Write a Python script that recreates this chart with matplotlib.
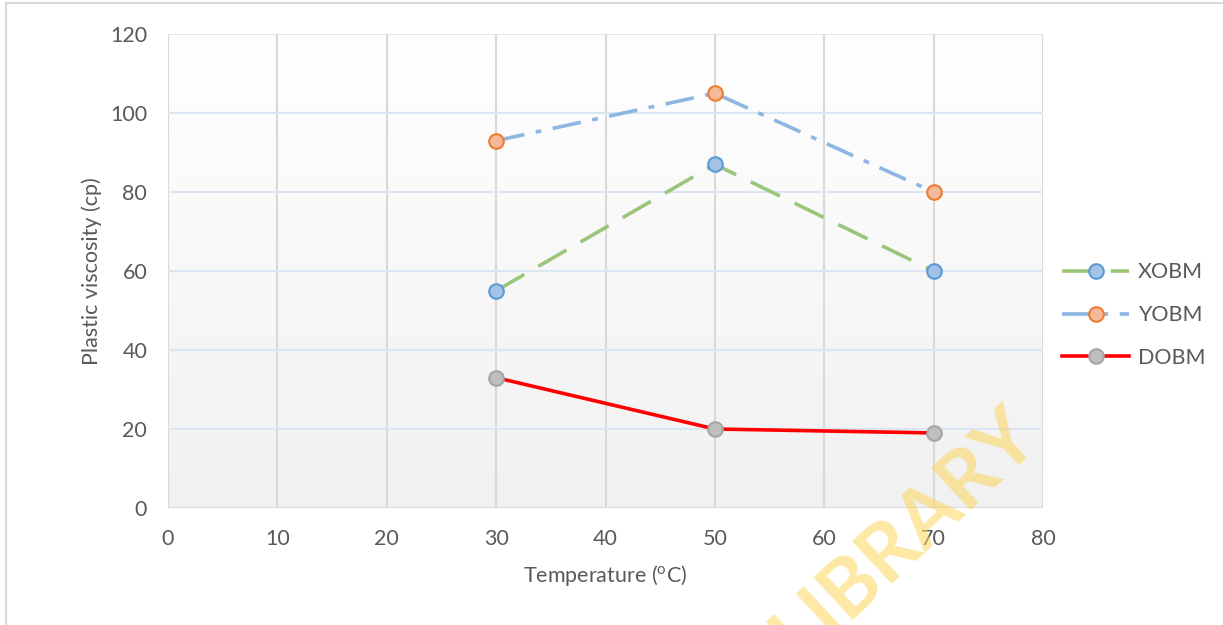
import numpy as np
import matplotlib
matplotlib.use("Agg")
import matplotlib.pyplot as plt
from matplotlib.lines import Line2D

plt.rcParams['font.family'] = ['Lato', 'DejaVu Sans']
plt.rcParams['mathtext.fontset'] = 'custom'
plt.rcParams['mathtext.rm'] = 'Lato'
plt.rcParams['mathtext.it'] = 'Lato'

# data
temperature = [30, 50, 70]
xobm = [55, 87, 60]
yobm = [93, 105, 80]
dobm = [33, 20, 19]

x_ticks = [0, 10, 20, 30, 40, 50, 60, 70, 80]
y_ticks = [0, 20, 40, 60, 80, 100, 120]

text_col = '#595959'
fs = 15.5

fig = plt.figure(figsize=(12.23, 6.25), dpi=100)
ax = fig.add_axes([168 / 1223, 1 - 508 / 625, (1043 - 168) / 1223, (508 - 34) / 625])

# gradient background (white at top, light grey at bottom)
grad = np.linspace(1.0, 0.945, 256).reshape(-1, 1)
ax.imshow(np.dstack([grad, grad, grad]), extent=[0, 1, 0, 1], transform=ax.transAxes,
          aspect='auto', zorder=0)

ax.set_xlim(0, 80)
ax.set_ylim(0, 120)
ax.set_xticks(x_ticks)
ax.set_yticks(y_ticks)
for t in x_ticks:
    ax.axvline(t, color='#D9D9D9', lw=1.5, zorder=1)
for t in y_ticks[1:]:
    ax.axhline(t, color='#DAE6F2', lw=1.5, zorder=1)
ax.axhline(0, color='#D9D9D9', lw=1.5, zorder=1)
for s in ax.spines.values():
    s.set_visible(False)
ax.tick_params(length=0, labelsize=fs, colors=text_col)
ax.tick_params(axis='x', pad=15)
ax.tick_params(axis='y', pad=15)

lw = 2.6
ms = 10.5
ax.plot(temperature, xobm, color='#9BC57A', lw=lw, dashes=(9, 4.5), marker='o', ms=ms,
        mfc='#A4C2E6', mec='#5B9BD5', mew=1.5, zorder=3, label='XOBM')
ax.plot(temperature, yobm, color='#8DB6E2', lw=lw, dashes=(8, 3.2, 1.6, 3.2), marker='o', ms=ms,
        mfc='#F4B89A', mec='#ED7D31', mew=1.5, zorder=3, label='YOBM')
ax.plot(temperature, dobm, color='#FF0000', lw=lw, marker='o', ms=ms,
        mfc='#BFBFBF', mec='#A5A5A5', mew=1.5, zorder=3, label='DOBM')

ax.set_xlabel('Temperature ($^{\\mathrm{o}}$C)', fontsize=fs, color=text_col, labelpad=10)
ax.set_ylabel('Plastic viscosity (cp)', fontsize=fs, color=text_col, labelpad=6)

leg = ax.legend(loc='center left', bbox_to_anchor=(1.0, 0.407), frameon=False, fontsize=fs,
                handlelength=3.1, labelspacing=1.05, handletextpad=0.4)
for txt in leg.get_texts():
    txt.set_color(text_col)

# watermark
fig.text(0.74, 0.145, 'LIBRARY', fontsize=58, fontweight='bold', color='#FCD55A', alpha=0.55,
         rotation=43, ha='center', va='center', zorder=10)

# outer frame lines
fig.add_artist(Line2D([6 / 1223, 6 / 1223], [0, 1 - 3 / 625], color='#D9D9D9', lw=1.5))
fig.add_artist(Line2D([6 / 1223, 1], [1 - 3 / 625, 1 - 3 / 625], color='#D9D9D9', lw=1.5))

fig.savefig('out.png', dpi=100)
